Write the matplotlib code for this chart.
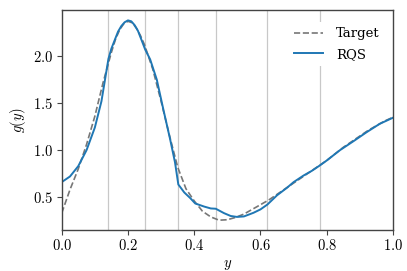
import matplotlib
matplotlib.use("Agg")
import matplotlib.pyplot as plt
from matplotlib.ticker import FuncFormatter

plt.rcParams['mathtext.fontset'] = 'cm'
plt.rcParams['font.family'] = ['DejaVu Serif']

# values
target_x = [0.000, 0.025, 0.050, 0.075, 0.100, 0.125, 0.150, 0.1625, 0.175, 0.1875,
            0.200, 0.2125, 0.225, 0.2375, 0.250, 0.275, 0.300, 0.325, 0.350, 0.375,
            0.400, 0.425, 0.450, 0.475, 0.500, 0.525, 0.550, 0.575, 0.600, 0.625,
            0.650, 0.675, 0.700, 0.725, 0.750, 0.775, 0.800, 0.825, 0.850, 0.875,
            0.900, 0.925, 0.950, 0.975, 1.000]
target_y = [0.33, 0.58, 0.80, 1.06, 1.36, 1.72, 2.04, 2.18, 2.28, 2.345,
            2.37, 2.355, 2.30, 2.22, 2.12, 1.86, 1.52, 1.16, 0.82, 0.59,
            0.46, 0.35, 0.29, 0.255, 0.26, 0.285, 0.32, 0.37, 0.42, 0.47,
            0.53, 0.59, 0.65, 0.71, 0.77, 0.83, 0.89, 0.96, 1.03, 1.09,
            1.15, 1.21, 1.26, 1.31, 1.35]

rqs_x = [0.000, 0.025, 0.050, 0.075, 0.100, 0.120, 0.141, 0.150, 0.160, 0.170,
         0.180, 0.190, 0.200, 0.210, 0.220, 0.230, 0.240, 0.252, 0.267, 0.287,
         0.307, 0.327, 0.342, 0.352, 0.370, 0.388, 0.403, 0.430, 0.450, 0.465,
         0.490, 0.510, 0.529, 0.550, 0.579, 0.600, 0.621, 0.650, 0.680, 0.700,
         0.730, 0.755, 0.779, 0.800, 0.840, 0.881, 0.920, 0.960, 1.000]
rqs_y = [0.66, 0.72, 0.83, 1.00, 1.24, 1.52, 1.97, 2.08, 2.17, 2.26,
         2.32, 2.36, 2.38, 2.37, 2.33, 2.27, 2.18, 2.07, 1.965, 1.75,
         1.43, 1.12, 0.87, 0.635, 0.55, 0.49, 0.433, 0.40, 0.38, 0.377,
         0.33, 0.30, 0.29, 0.295, 0.334, 0.37, 0.422, 0.52, 0.60, 0.66,
         0.73, 0.78, 0.837, 0.89, 1.00, 1.096, 1.19, 1.28, 1.345]

knots = [0.141, 0.252, 0.352, 0.465, 0.621, 0.779]

fig = plt.figure(figsize=(4.07, 2.71), dpi=100)
ax = fig.add_axes([0.1516, 0.151, 0.8140, 0.812])

for k in knots:
    ax.axvline(k, color='#c8c8c8', lw=0.9, zorder=0)

ax.plot(target_x, target_y, '--', color='#777777', lw=1.2, label='Target')
ax.plot(rqs_x, rqs_y, '-', color='#1f77b4', lw=1.4, label='RQS')

ax.set_xlim(0, 1)
ax.set_ylim(0.15, 2.49)
ax.set_xticks([0.0, 0.2, 0.4, 0.6, 0.8, 1.0])
ax.set_yticks([0.5, 1.0, 1.5, 2.0])
fmt = FuncFormatter(lambda v, p: '$%.1f$' % v)
ax.xaxis.set_major_formatter(fmt)
ax.yaxis.set_major_formatter(fmt)
ax.tick_params(labelsize=10.5, length=3.5, width=0.8, color='#444444', pad=2.5)
for s in ax.spines.values():
    s.set_color('#444444')
    s.set_linewidth(1.0)

ax.set_xlabel('$y$', fontsize=10.5, labelpad=3)
ax.set_ylabel('$g(y)$', fontsize=10.5, labelpad=4)

leg = ax.legend(loc='upper right', bbox_to_anchor=(0.995, 0.975), fontsize=9.5,
                frameon=True, framealpha=1, edgecolor='none', fancybox=False,
                handlelength=2.2, handletextpad=1.0, labelspacing=0.55)

fig.savefig('out.png', dpi=100)
